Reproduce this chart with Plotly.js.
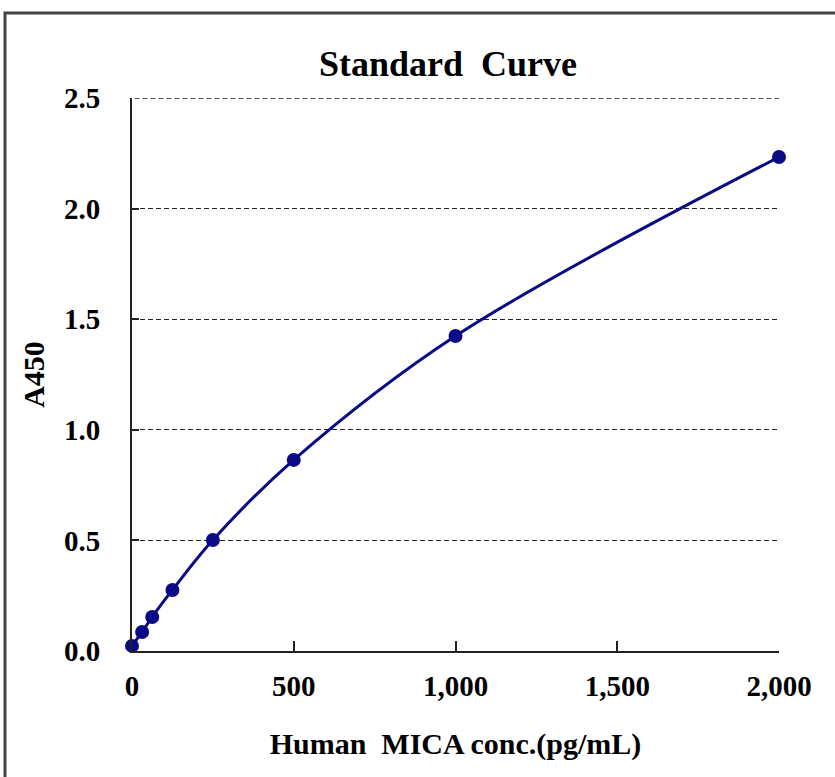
<!DOCTYPE html>
<html>
<head>
<meta charset="utf-8">
<script src="https://cdn.plot.ly/plotly-3.0.1.min.js"></script>
<style>html,body{margin:0;padding:0;background:#fff}</style>
</head>
<body>
<div id="chart" style="width:835px;height:777px"></div>
<script>
// Data
const concentration = [0, 31.25, 62.5, 125, 250, 500, 1000, 2000];
const absorbance = [0.023, 0.086, 0.154, 0.276, 0.502, 0.864, 1.424, 2.233];
const xTickValues = [0, 500, 1000, 1500, 2000];
const xTickLabels = ["0", "500", "1,000", "1,500", "2,000"];
const yTickValues = [0, 0.5, 1.0, 1.5, 2.0, 2.5];
const yTickLabels = ["0.0", "0.5", "1.0", "1.5", "2.0", "2.5"];
const yMax = 2.5;

const serif = "Liberation Serif, Times New Roman, serif";
const navy = "#0a0a86";

const trace = {
  x: concentration,
  y: absorbance,
  type: "scatter",
  mode: "lines+markers",
  line: {color: navy, width: 3, shape: "spline", smoothing: 1},
  marker: {color: navy, size: 14},
  cliponaxis: false,
  hoverinfo: "x+y"
};

const layout = {
  width: 835,
  height: 777,
  margin: {l: 132, r: 56, t: 98, b: 126, pad: 0},
  paper_bgcolor: "#fff",
  plot_bgcolor: "#fff",
  showlegend: false,
  title: {
    text: "Standard  Curve",
    font: {family: serif, size: 36, color: "#000", weight: "bold"},
    x: 448 / 835, xanchor: "center", y: 0.918, yanchor: "middle"
  },
  xaxis: {
    range: [0, 2000],
    tickvals: xTickValues,
    ticktext: xTickLabels,
    ticks: "inside",
    ticklen: 10,
    tickwidth: 2,
    tickcolor: "#222",
    showline: true,
    linecolor: "#222",
    linewidth: 2,
    showgrid: false,
    zeroline: false,
    ticklabelstandoff: 8,
    tickfont: {family: serif, size: 29, color: "#000", weight: "bold"},
    title: {
      text: "Human  MICA conc.(pg/mL)",
      font: {family: serif, size: 30, color: "#000", weight: "bold"},
      standoff: 32
    }
  },
  yaxis: {
    range: [0, yMax],
    tickvals: yTickValues,
    ticktext: yTickLabels,
    ticks: "inside",
    ticklen: 7,
    tickwidth: 2,
    tickcolor: "#222",
    showline: true,
    linecolor: "#222",
    linewidth: 2,
    showgrid: true,
    gridcolor: "#222",
    gridwidth: 1.4,
    griddash: "5px,3px",
    zeroline: false,
    ticklabelstandoff: 24,
    tickfont: {family: serif, size: 29, color: "#000", weight: "bold"},
    title: {
      text: "A450",
      font: {family: serif, size: 30, color: "#000", weight: "bold"},
      standoff: 10
    }
  },
  shapes: [{
    type: "rect",
    xref: "paper", yref: "paper",
    x0: (5 - 132) / 647, x1: (845 - 132) / 647,
    y0: (651 - 790) / 553, y1: (651 - 13) / 553,
    line: {color: "#444", width: 3},
    fillcolor: "rgba(0,0,0,0)",
    layer: "below"
  }, {
    type: "line",
    xref: "paper", yref: "y",
    x0: 0.004, x1: 1, y0: yMax, y1: yMax,
    line: {color: "#222", width: 1.4, dash: "5px,3px"},
    layer: "below"
  }]
};

Plotly.newPlot("chart", [trace], layout, {displayModeBar: false, responsive: false});
</script>
</body>
</html>
